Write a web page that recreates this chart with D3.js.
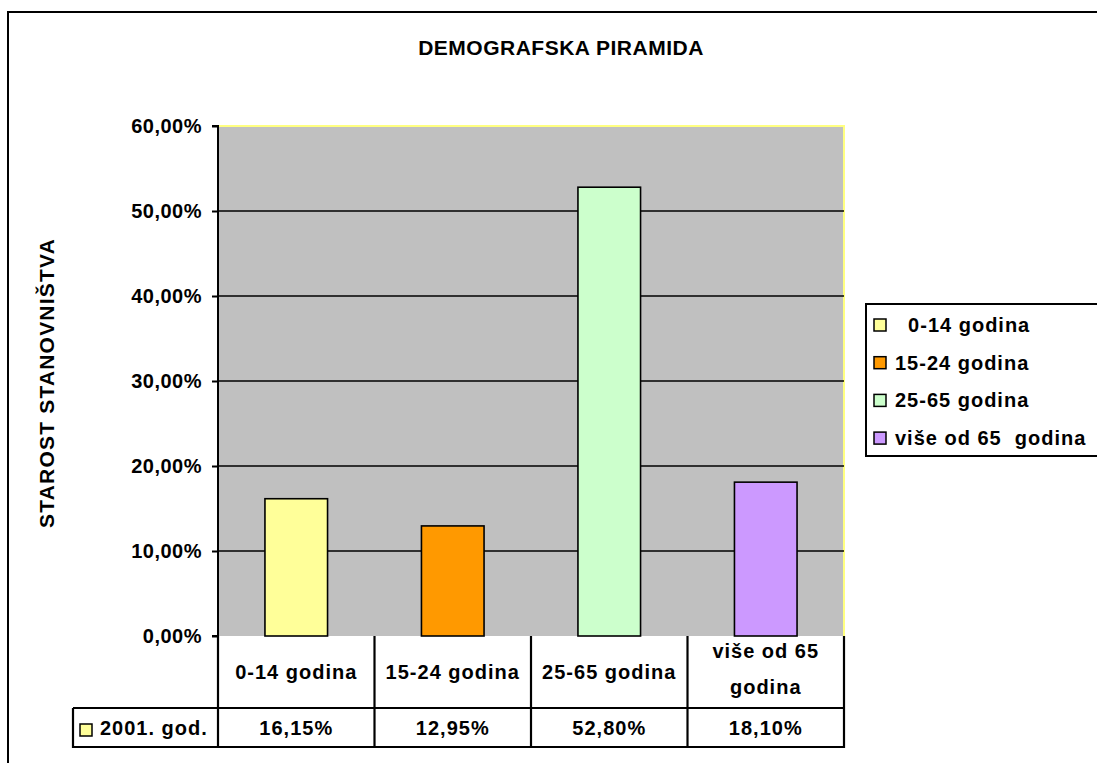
<!DOCTYPE html>
<html><head><meta charset="utf-8">
<script src="https://cdn.jsdelivr.net/npm/d3@7"></script>
<style>
html,body{margin:0;padding:0;background:#fff;}
svg{display:block;font-family:"Liberation Sans",Arial,sans-serif;font-weight:bold;}
</style></head>
<body>
<svg id="c" width="1097" height="763"></svg>
<script>
const categories = ["0-14 godina", "15-24 godina", "25-65 godina", "više od 65 godina"];
const headerLines = [["0-14 godina"], ["15-24 godina"], ["25-65 godina"], ["više od 65", "godina"]];
const legendLabels = ["  0-14 godina", "15-24 godina", "25-65 godina", "više od 65  godina"];
const values = [0.1615, 0.1295, 0.528, 0.181];
const colors = ["#FFFF99", "#FF9900", "#CCFFCC", "#CC99FF"];
const yTicks = [0, 0.1, 0.2, 0.3, 0.4, 0.5, 0.6];
const seriesName = "2001. god.";
const title = "DEMOGRAFSKA PIRAMIDA";
const yTitle = "STAROST STANOVNIŠTVA";

const svg = d3.select("#c");
const L = 218, R = 844, T = 126, B = 636;
const FS = 20, LS = "1px";
const fmtPct = v => d3.format(".2f")(v * 100).replace(".", ",") + "%";

// outer frame
svg.append("rect").attr("x", 8).attr("y", 12).attr("width", 1200).attr("height", 900)
  .attr("fill", "#fff").attr("stroke", "#000").attr("stroke-width", 2);

const x = d3.scaleBand().domain(categories).range([L, R]).paddingInner(0.6).paddingOuter(0.3);
const xc = d3.scaleBand().domain(categories).range([L, R]).padding(0);
const y = d3.scaleLinear().domain([0, 0.6]).range([B, T]);

// plot background
svg.append("rect").attr("x", L).attr("y", T).attr("width", R - L).attr("height", B - T).attr("fill", "#C0C0C0");
// top/right border yellow
svg.append("path").attr("d", `M${L},${T}H${R}V${B}`).attr("fill", "none").attr("stroke", "#FFFF80").attr("stroke-width", 2);

// gridlines
svg.append("g").selectAll("line").data(yTicks.filter(d => d > 0 && d < 0.6)).join("line")
  .attr("x1", L).attr("x2", R).attr("y1", d => y(d)).attr("y2", d => y(d))
  .attr("stroke", "#000").attr("stroke-width", 1.6);

// bars
svg.append("g").selectAll("rect").data(categories).join("rect")
  .attr("x", d => x(d)).attr("width", x.bandwidth())
  .attr("y", (d, i) => y(values[i])).attr("height", (d, i) => B - y(values[i]))
  .attr("fill", (d, i) => colors[i]).attr("stroke", "#000").attr("stroke-width", 1.6);

// y axis
const yAxis = d3.axisLeft(y).tickValues(yTicks).tickFormat(fmtPct).tickSize(6).tickPadding(10);
const ga = svg.append("g").attr("transform", `translate(${L},0)`).call(yAxis);
ga.select(".domain").attr("stroke", "#000").attr("stroke-width", 2).attr("d", `M-6,${T}H0V${B}H-6`);
ga.selectAll(".tick line").attr("stroke", "#000").attr("stroke-width", 2);
ga.selectAll(".tick text").attr("font-size", FS).attr("font-family", "'Liberation Sans',Arial,sans-serif")
  .attr("font-weight", "bold").attr("fill", "#000").style("letter-spacing", "0.5px");

// title
svg.append("text").attr("x", 561).attr("y", 55).attr("text-anchor", "middle").attr("font-size", 21)
  .style("letter-spacing", "0.5px").text(title);
// y title
svg.append("text").attr("transform", `translate(54,383) rotate(-90)`).attr("text-anchor", "middle")
  .attr("font-size", 21).style("letter-spacing", "1.2px").text(yTitle);

// data table
const tb = svg.append("g").attr("stroke", "#000").attr("stroke-width", 2.2).attr("fill", "none");
const rowMid = 708, rowBot = 747, tabL = 73;
tb.append("path").attr("d", `M${L},${B}V${rowBot}H${R}V${B}`);
tb.append("path").attr("d", `M${tabL},${rowMid}H${R}`);
tb.append("path").attr("d", `M${tabL},${rowMid}V${rowBot}H${L}`);
categories.slice(1).forEach(c => tb.append("line").attr("x1", xc(c)).attr("x2", xc(c)).attr("y1", B).attr("y2", rowBot));

// header labels
categories.forEach((c, i) => {
  const lines = headerLines[i];
  const cx = xc(c) + xc.bandwidth() / 2;
  const t = svg.append("text").attr("text-anchor", "middle").attr("font-size", FS).style("letter-spacing", LS);
  lines.forEach((ln, j) => {
    t.append("tspan").attr("x", cx).attr("y", 679 + (j - (lines.length - 1) / 2) * 36 - (lines.length > 1 ? 3 : 0)).text(ln);
  });
  svg.append("text").attr("x", cx).attr("y", 735).attr("text-anchor", "middle").attr("font-size", FS)
    .style("letter-spacing", LS).text(fmtPct(values[i]));
});
// series legend key in table
svg.append("rect").attr("x", 80).attr("y", 724).attr("width", 12).attr("height", 12)
  .attr("fill", colors[0]).attr("stroke", "#000").attr("stroke-width", 1.5);
svg.append("text").attr("x", 100).attr("y", 735).attr("font-size", FS).style("letter-spacing", LS).text(seriesName);

// legend
svg.append("rect").attr("x", 866).attr("y", 304).attr("width", 300).attr("height", 152)
  .attr("fill", "#fff").attr("stroke", "#000").attr("stroke-width", 2);
legendLabels.forEach((lb, i) => {
  const cy = 325 + i * 37.7;
  svg.append("rect").attr("x", 874).attr("y", cy - 6).attr("width", 12).attr("height", 12)
    .attr("fill", colors[i]).attr("stroke", "#000").attr("stroke-width", 1.5);
  svg.append("text").attr("x", 895).attr("y", cy + 7).attr("font-size", FS)
    .style("white-space", "pre").style("letter-spacing", LS).text(lb);
});
</script>
</body></html>
